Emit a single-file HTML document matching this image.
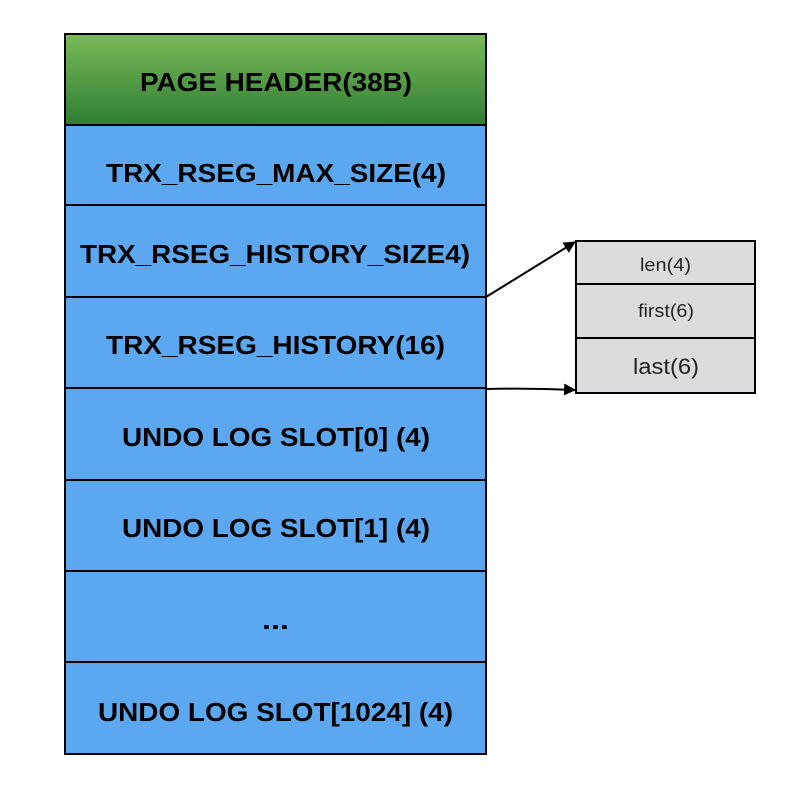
<!DOCTYPE html>
<html><head><meta charset="utf-8"><style>html,body{margin:0;padding:0;background:#fff;}svg{display:block;}</style></head>
<body>
<svg width="804" height="792" xmlns="http://www.w3.org/2000/svg" font-family="Liberation Sans, Arial, sans-serif">
<defs>
<linearGradient id="g" x1="0" y1="0" x2="0" y2="1"><stop offset="0" stop-color="#7aba58"/><stop offset="1" stop-color="#2f7d34"/></linearGradient>
<marker id="a" markerWidth="12" markerHeight="12" refX="11" refY="6" orient="auto" markerUnits="userSpaceOnUse"><path d="M0,0 L12,6 L0,12 z" fill="#000"/></marker>
</defs>
<rect x="65" y="34" width="421" height="91" fill="url(#g)"/>
<rect x="65" y="125" width="421" height="629" fill="#5ba8f1"/>
<g stroke="#000" stroke-width="2" fill="none">
<rect x="65" y="34" width="421" height="720"/>
<line x1="65" y1="125" x2="486" y2="125"/>
<line x1="65" y1="205" x2="486" y2="205"/>
<line x1="65" y1="297" x2="486" y2="297"/>
<line x1="65" y1="388" x2="486" y2="388"/>
<line x1="65" y1="480" x2="486" y2="480"/>
<line x1="65" y1="571" x2="486" y2="571"/>
<line x1="65" y1="662" x2="486" y2="662"/>
</g>
<g font-weight="bold" font-size="26" fill="#000" lengthAdjust="spacingAndGlyphs">
<text x="140" y="91" textLength="272" lengthAdjust="spacingAndGlyphs">PAGE HEADER(38B)</text>
<text x="106" y="182" textLength="340" lengthAdjust="spacingAndGlyphs">TRX_RSEG_MAX_SIZE(4)</text>
<text x="80" y="263" textLength="390" lengthAdjust="spacingAndGlyphs">TRX_RSEG_HISTORY_SIZE4)</text>
<text x="106" y="354" textLength="339" lengthAdjust="spacingAndGlyphs">TRX_RSEG_HISTORY(16)</text>
<text x="122" y="446" textLength="308" lengthAdjust="spacingAndGlyphs">UNDO LOG SLOT[0] (4)</text>
<text x="122" y="537" textLength="308" lengthAdjust="spacingAndGlyphs">UNDO LOG SLOT[1] (4)</text>
<text x="262" y="629" textLength="27" lengthAdjust="spacingAndGlyphs">...</text>
<text x="98" y="721" textLength="355" lengthAdjust="spacingAndGlyphs">UNDO LOG SLOT[1024] (4)</text>
</g>
<rect x="576" y="241" width="179" height="152" fill="#dcdcde" stroke="#000" stroke-width="2"/>
<line x1="576" y1="284" x2="755" y2="284" stroke="#000" stroke-width="2"/>
<line x1="576" y1="338" x2="755" y2="338" stroke="#000" stroke-width="2"/>
<g fill="#222">
<text x="640" y="271" font-size="18" textLength="51" lengthAdjust="spacingAndGlyphs">len(4)</text>
<text x="638" y="317" font-size="18" textLength="56" lengthAdjust="spacingAndGlyphs">first(6)</text>
<text x="633" y="374" font-size="22" textLength="66" lengthAdjust="spacingAndGlyphs">last(6)</text>
</g>
<g stroke="#000" stroke-width="2" fill="none">
<line x1="486" y1="297" x2="575" y2="242" marker-end="url(#a)"/>
<path d="M486,389 Q530,388 575,390" marker-end="url(#a)"/>
</g>
</svg>
</body></html>
